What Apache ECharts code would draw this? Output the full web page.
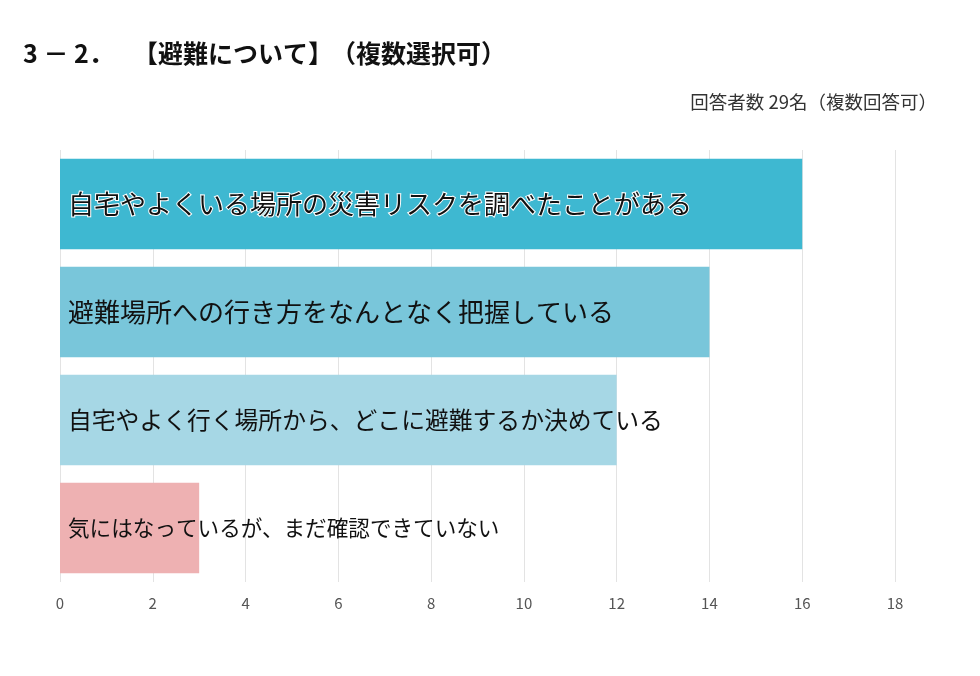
<!DOCTYPE html>
<html lang="ja">
<head>
    <meta charset="UTF-8">
    <title>避難について</title>
    <script src="https://cdn.jsdelivr.net/npm/echarts@6/dist/echarts.min.js"></script>
    <style>
        html, body { margin: 0; padding: 0; background: #fff; }
        #chartmain { width: 980px; height: 676px; }
    </style>
</head>
<body>
<div id="chartmain"></div>
<script type="text/javascript">
    var categories = [
        '自宅やよくいる場所の災害リスクを調べたことがある',
        '避難場所への行き方をなんとなく把握している',
        '自宅やよく行く場所から、どこに避難するか決めている',
        '気にはなっているが、まだ確認できていない'
    ];
    var counts = [16, 14, 12, 3];
    var barColors = ['#3eb8d1', '#79c6da', '#a6d7e5', '#eeb1b2'];
    var labelSizes = [26, 26, 23.8, 21.6];

    var font = '"Noto Sans CJK JP", "Noto Sans", sans-serif';
    var titleStyle = { fontFamily: font, fontSize: 25, fontWeight: 'bold', color: '#111' };

    var myChart = echarts.init(document.getElementById('chartmain'));
    var option = {
        backgroundColor: '#fff',
        animation: false,
        title: [{
            text: '3 － 2．',
            left: 18,
            top: 36,
            textStyle: titleStyle
        }, {
            text: '【避難について】',
            left: 128,
            top: 36,
            textStyle: titleStyle
        }, {
            text: '（複数選択可）',
            left: 326,
            top: 36,
            textStyle: titleStyle
        }, {
            text: '回答者数 29名（複数回答可）',
            right: 38,
            top: 88,
            textStyle: { fontFamily: font, fontSize: 18.5, fontWeight: 'normal', color: '#333' }
        }],
        grid: { left: 60, right: 85, top: 150, bottom: 94 },
        xAxis: {
            type: 'value',
            min: 0,
            max: 18,
            interval: 2,
            axisLine: { show: false },
            axisTick: { show: false },
            axisLabel: { color: '#555', fontSize: 15, fontFamily: font, margin: 14 },
            splitLine: { lineStyle: { color: '#e3e3e3', width: 1 } }
        },
        yAxis: {
            type: 'category',
            inverse: true,
            data: categories,
            axisLine: { show: false },
            axisTick: { show: false },
            axisLabel: { show: false }
        },
        series: [{
            type: 'bar',
            barCategoryGap: '16%',
            data: counts.map(function (v, i) {
                return {
                    value: v,
                    itemStyle: { color: barColors[i] },
                    label: {
                        show: true,
                        position: 'insideLeft',
                        distance: 8,
                        formatter: categories[i],
                        fontFamily: font,
                        fontSize: labelSizes[i],
                        color: '#111',
                        textBorderColor: i === 0 ? '#fff' : 'transparent',
                        textBorderWidth: i === 0 ? 2 : 0
                    }
                };
            })
        }]
    };
    myChart.setOption(option);
</script>
</body>
</html>
